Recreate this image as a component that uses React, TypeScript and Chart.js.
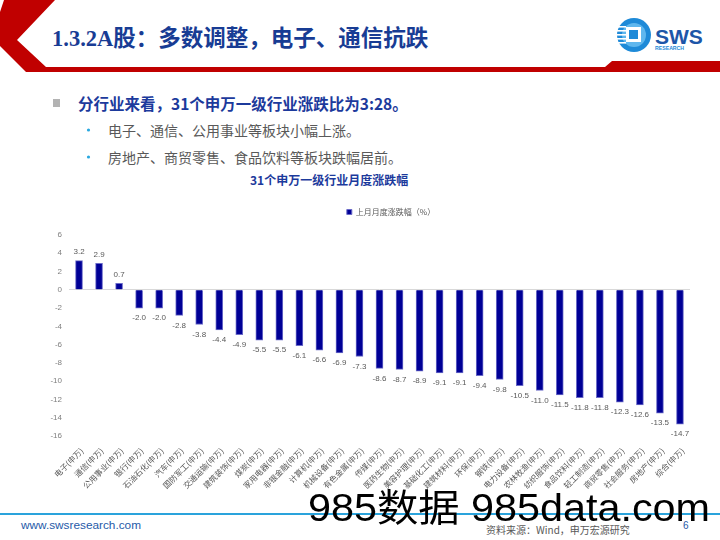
import React, { useEffect, useRef } from "react";
import { Chart, registerables } from "chart.js";

Chart.register(...registerables);

const categories = [
  "电子(申万)", "通信(申万)", "公用事业(申万)", "银行(申万)", "石油石化(申万)",
  "汽车(申万)", "国防军工(申万)", "交通运输(申万)", "建筑装饰(申万)", "煤炭(申万)",
  "家用电器(申万)", "非银金融(申万)", "计算机(申万)", "机械设备(申万)", "有色金属(申万)",
  "传媒(申万)", "医药生物(申万)", "美容护理(申万)", "基础化工(申万)", "建筑材料(申万)",
  "环保(申万)", "钢铁(申万)", "电力设备(申万)", "农林牧渔(申万)", "纺织服饰(申万)",
  "食品饮料(申万)", "轻工制造(申万)", "商贸零售(申万)", "社会服务(申万)", "房地产(申万)",
  "综合(申万)",
];

const values = [
  3.2, 2.9, 0.7, -2.0, -2.0, -2.8, -3.8, -4.4, -4.9, -5.5,
  -5.5, -6.1, -6.6, -6.9, -7.3, -8.6, -8.7, -8.9, -9.1, -9.1,
  -9.4, -9.8, -10.5, -11.0, -11.5, -11.8, -11.8, -12.3, -12.6, -13.5,
  -14.7,
];

const seriesName = "上月月度涨跌幅（%）";
const yMin = -16;
const yMax = 6;
const yStep = 2;

const FONT = "'Liberation Sans', 'Noto Sans CJK SC', sans-serif";
const CJK = "'Noto Sans CJK SC', 'Liberation Sans', sans-serif";

const legendShift = {
  id: "legendShift",
  afterLayout(chart: any) {
    const lg = chart.legend;
    if (!lg) return;
    const target = 371;
    const c = (lg.left + lg.right) / 2;
    const d = target - c;
    lg.left += d;
    lg.right += d;
    lg.top -= 9;
    lg.bottom -= 9;
  },
};

const dataLabels = {
  id: "dataLabels",
  afterDatasetsDraw(chart: any) {
    const ctx = chart.ctx;
    const meta = chart.getDatasetMeta(0);
    const data = chart.data.datasets[0].data as number[];
    ctx.save();
    ctx.font = `8px ${FONT}`;
    ctx.fillStyle = "#595959";
    ctx.textAlign = "center";
    ctx.textBaseline = "middle";
    meta.data.forEach((bar: any, i: number) => {
      const v = data[i];
      const { x, y } = bar.getProps(["x", "y"], true);
      ctx.fillText(v.toFixed(1), x, v >= 0 ? y - 9 : y + 10);
    });
    ctx.restore();
  },
};

function BarChart() {
  const ref = useRef<HTMLCanvasElement | null>(null);
  useEffect(() => {
    if (!ref.current) return;
    Chart.defaults.font.family = FONT;
    const chart = new Chart(ref.current, {
      type: "bar",
      data: {
        labels: categories,
        datasets: [
          {
            label: seriesName,
            data: values,
            backgroundColor: "#000096",
            borderColor: "#6b6bc8",
            borderWidth: 1,
            barThickness: 7,
          },
        ],
      },
      options: {
        animation: false,
        responsive: false,
        maintainAspectRatio: false,
        layout: { padding: { left: 0, right: 10, top: 0, bottom: 0 } },
        plugins: {
          legend: {
            display: true,
            position: "top",
            labels: {
              boxWidth: 5,
              boxHeight: 5,
              padding: 19,
              font: { size: 8, family: CJK },
              color: "#595959",
            },
          },
          tooltip: { enabled: false },
        },
        scales: {
          x: {
            grid: { display: false },
            border: { display: false },
            ticks: {
              autoSkip: false,
              maxRotation: 45,
              minRotation: 45,
              labelOffset: 3,
              font: { size: 8, family: CJK },
              color: "#595959",
              padding: 2,
            },
            afterFit: (s: any) => {
              s.height = 60;
            },
          },
          y: {
            min: yMin,
            max: yMax,
            ticks: {
              stepSize: yStep,
              font: { size: 8 },
              color: "#7f7f7f",
              padding: 7,
            },
            grid: {
              drawTicks: false,
              color: (c: any) =>
                c.tick && c.tick.value === 0 ? "#d9d9d9" : "rgba(0,0,0,0)",
            },
            border: { display: false },
            afterFit: (s: any) => {
              s.width = 49;
            },
          },
        },
      },
      plugins: [legendShift, dataLabels],
    });
    return () => chart.destroy();
  }, []);
  return (
    <canvas
      ref={ref}
      width={680}
      height={298}
      style={{ position: "absolute", left: 20, top: 198, width: 680, height: 298 }}
    />
  );
}

const abs = (s: React.CSSProperties): React.CSSProperties => ({
  position: "absolute",
  whiteSpace: "nowrap",
  margin: 0,
  ...s,
});

export default function App() {
  return (
    <div
      style={{
        position: "absolute",
        left: 0,
        top: 0,
        width: 720,
        height: 540,
        overflow: "hidden",
        background: "#fff",
      }}
    >
      <svg width={720} height={540} style={{ position: "absolute", left: 0, top: 0 }}>
        <polygon
          points="0,12 4,0 55,0 17,40 46,67 605,67 612,61 720,61 720,72 26,72 0,46"
          fill="#c00000"
        />
        <line x1={0} y1={514} x2={720} y2={514} stroke="#2aa3dc" strokeWidth={2} />
        {/* logo */}
        <circle cx={634} cy={35} r={17} fill="#1e8ad8" />
        <circle cx={634} cy={35} r={12} fill="#5fb7ee" />
        <rect x={626} y={27} width={15} height={15} fill="#fff" />
        <rect x={629} y={30} width={9} height={9} fill="#1e8ad8" />
        {[26, 30, 34, 38, 42].map((y) => (
          <rect key={y} x={617} y={y} width={9} height={1.6} fill="#fff" />
        ))}
        <text x={655} y={44} fontFamily={FONT} fontWeight="bold" fontSize={21} fill="#1d56a8">
          SWS
        </text>
        <text x={655} y={49.5} fontFamily={FONT} fontWeight="bold" fontSize={5.2} fill="#1e8ad8">
          RESEARCH
        </text>
        <rect x={53} y={99} width={7} height={8} fill="#b3b3b3" />
        <circle cx={88.5} cy={130} r={1.6} fill="#29a8e0" />
        <circle cx={88.5} cy={157} r={1.6} fill="#29a8e0" />
      </svg>

      <div
        style={abs({
          left: 52,
          top: 26,
          fontSize: 22.5,
          lineHeight: "26px",
          fontWeight: "bold",
          color: "#183c94",
          fontFamily: "'Liberation Serif', 'Noto Sans CJK SC', serif",
        })}
      >
        1.3.2A股：多数调整，电子、通信抗跌
      </div>

      <div
        style={abs({
          left: 78,
          top: 93,
          fontSize: 15.5,
          lineHeight: "20px",
          fontWeight: "bold",
          color: "#1c3a9c",
          fontFamily: CJK,
        })}
      >
        分行业来看，31个申万一级行业涨跌比为3:28。
      </div>
      <div style={abs({ left: 108, top: 120, fontSize: 14, lineHeight: "20px", color: "#595959", fontFamily: CJK })}>
        电子、通信、公用事业等板块小幅上涨。
      </div>
      <div style={abs({ left: 108, top: 147, fontSize: 14, lineHeight: "20px", color: "#595959", fontFamily: CJK })}>
        房地产、商贸零售、食品饮料等板块跌幅居前。
      </div>
      <div
        style={abs({
          left: 250,
          top: 172,
          fontSize: 12,
          lineHeight: "16px",
          fontWeight: "bold",
          color: "#1c3a9c",
          fontFamily: CJK,
        })}
      >
        31个申万一级行业月度涨跌幅
      </div>

      <BarChart />

      <div style={abs({ left: 21, top: 518, fontSize: 11.8, lineHeight: "14px", color: "#1f5aa8", fontFamily: FONT })}>
        www.swsresearch.com
      </div>
      <div style={abs({ left: 486, top: 523, fontSize: 10, lineHeight: "14px", color: "#595959", fontFamily: CJK })}>
        资料来源：Wind，申万宏源研究
      </div>
      <div style={abs({ left: 683, top: 519, fontSize: 10, lineHeight: "14px", color: "#1f5aa8", fontFamily: FONT })}>
        6
      </div>

      <svg width={720} height={540} style={{ position: "absolute", left: 0, top: 0, pointerEvents: "none" }}>
        <text
          x={308}
          y={521}
          fontFamily={FONT}
          fontSize={38}
          fill="#000"
          textLength={402}
          lengthAdjust="spacingAndGlyphs"
        >
          985数据 985data.com
        </text>
      </svg>
    </div>
  );
}
